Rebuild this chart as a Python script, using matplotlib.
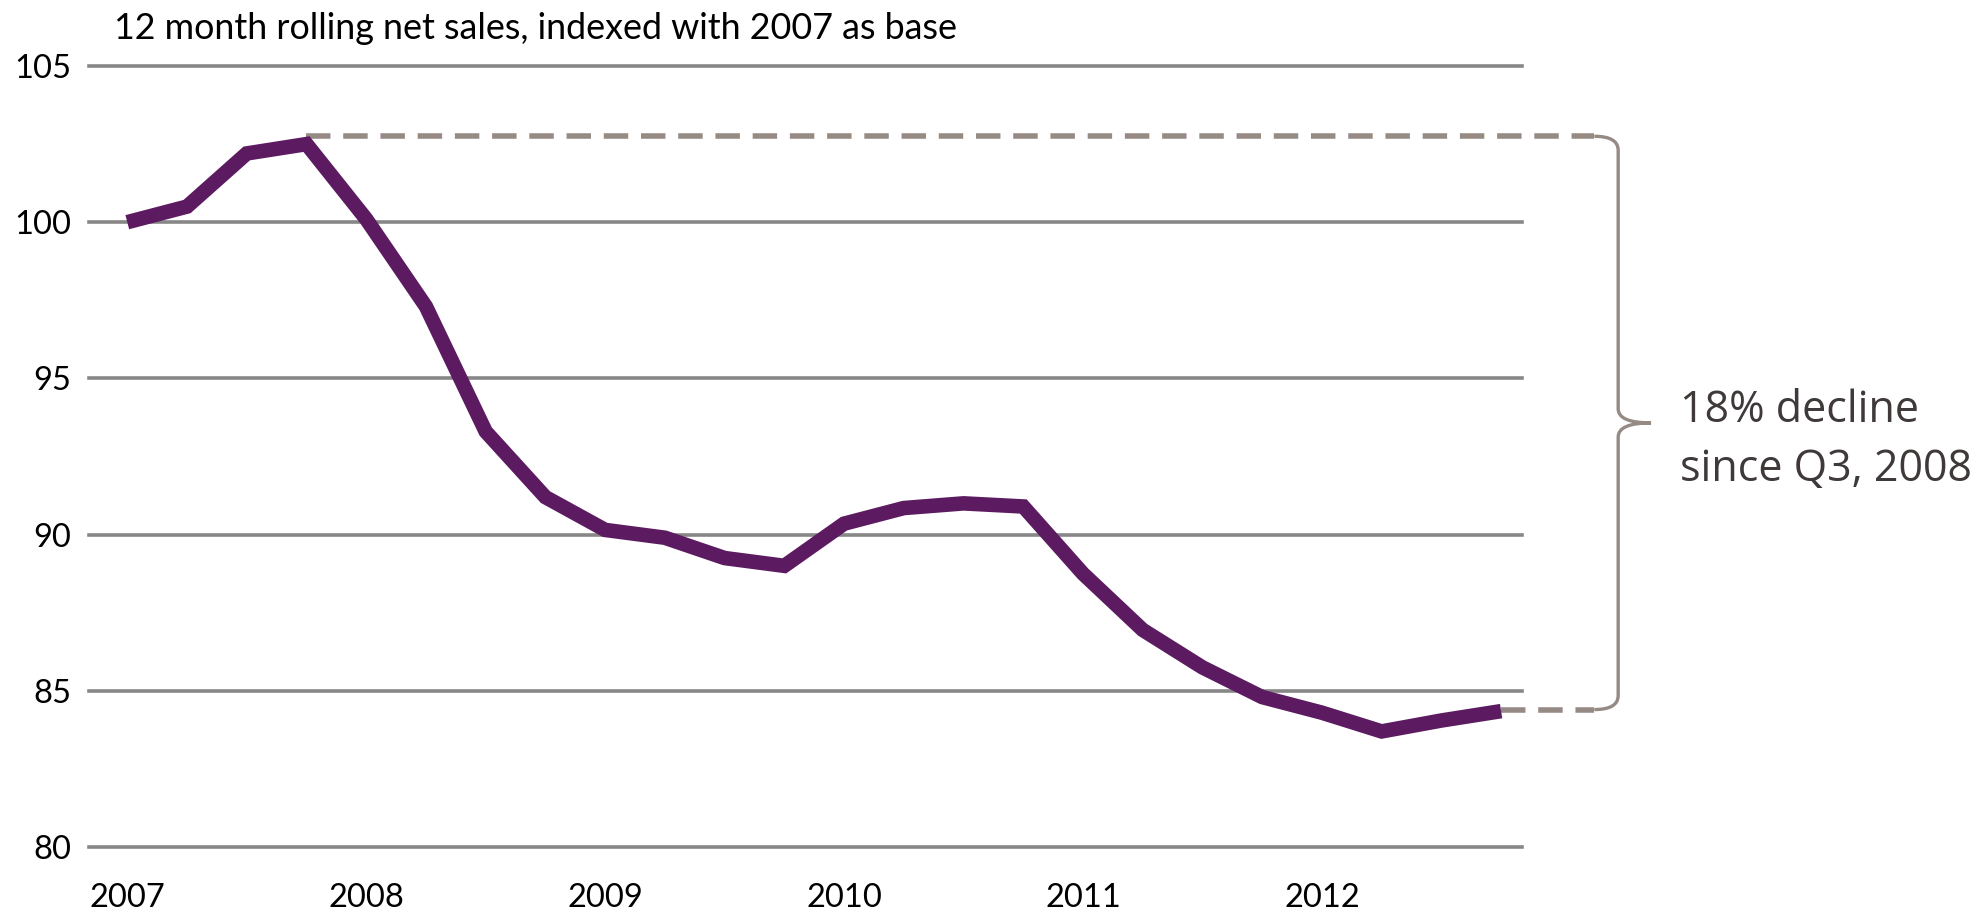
"""12 month rolling net sales, indexed with 2007 as base, with the decline since Q3 2008 marked."""

from __future__ import annotations

import matplotlib

matplotlib.use("Agg")

import matplotlib.pyplot as plt
from matplotlib.path import Path
from matplotlib.patches import PathPatch

OUTPUT_FILE = "out.png"

# quarterly index values, 2007 Q1 .. 2012 Q4
quarters = list(range(24))
net_sales_index = [
    100.0, 100.5, 102.2, 102.5,
    100.1, 97.3, 93.3, 91.2,
    90.15, 89.9, 89.25, 89.0,
    90.35, 90.85, 91.0, 90.9,
    88.75, 86.95, 85.75, 84.8,
    84.3, 83.7, 84.05, 84.35,
]
year_ticks = [0, 4, 8, 12, 16, 20]
year_labels = ["2007", "2008", "2009", "2010", "2011", "2012"]
y_ticks = [80, 85, 90, 95, 100, 105]

# levels for the bracket annotation
peak_level = 102.75
end_level = 84.4
peak_quarter = 3
last_quarter = 23

TITLE = "12 month rolling net sales, indexed with 2007 as base"
NOTE = "18% decline\nsince Q3, 2008"

PURPLE = "#5c1a60"
GRID = "#878787"
BRACE = "#968a84"
NOTE_COLOR = "#3f3939"


def draw_brace(ax, x, top, bottom, x_start, tip=0.55, curl_y=0.45):
    mid = (top + bottom) / 2
    verts = [
        (x_start, top), (x, top), (x, top - curl_y),
        (x, mid + curl_y), (x, mid), (x + tip, mid),
        (x, mid), (x, mid - curl_y),
        (x, bottom + curl_y), (x, bottom), (x_start, bottom),
    ]
    codes = [
        Path.MOVETO, Path.CURVE3, Path.CURVE3,
        Path.LINETO, Path.CURVE3, Path.CURVE3,
        Path.CURVE3, Path.CURVE3,
        Path.LINETO, Path.CURVE3, Path.CURVE3,
    ]
    patch = PathPatch(
        Path(verts, codes), facecolor="none", edgecolor=BRACE,
        linewidth=2.4, clip_on=False, capstyle="butt",
    )
    ax.add_patch(patch)


def main() -> None:
    plt.rcParams["font.family"] = ["Lato", "DejaVu Sans"]

    fig = plt.figure(figsize=(19.88, 9.10), dpi=100)
    ax = fig.add_axes([0.0448, 0.0692, 0.7208, 0.8583])

    for y in y_ticks:
        ax.axhline(y, color=GRID, linewidth=2.6, zorder=1, clip_on=False)

    # dashed guides from the peak and from the latest value to the bracket
    brace_x = 24.96
    ax.plot(
        [peak_quarter, brace_x - 0.4], [peak_level, peak_level],
        color=BRACE, linewidth=4, linestyle=(0, (4.4, 2.3)),
        clip_on=False, zorder=2,
    )
    ax.plot(
        [last_quarter, brace_x - 0.4], [end_level, end_level],
        color=BRACE, linewidth=4, linestyle=(0, (4.4, 2.3)),
        clip_on=False, zorder=2,
    )
    draw_brace(ax, brace_x, peak_level, end_level, brace_x - 0.4)

    ax.plot(
        quarters, net_sales_index, color=PURPLE, linewidth=10.5,
        solid_capstyle="butt", solid_joinstyle="miter", zorder=3,
    )

    ax.set_xlim(-0.64, 23.35)
    ax.set_ylim(80, 105)
    ax.set_xticks(year_ticks)
    ax.set_xticklabels(year_labels)
    ax.set_yticks(y_ticks)
    ax.tick_params(axis="both", length=0, labelsize=23.5, colors="black")
    ax.tick_params(axis="x", pad=26)
    ax.tick_params(axis="y", pad=13)
    for side in ax.spines.values():
        side.set_visible(False)

    fig.text(0.0573, 0.969, TITLE, fontsize=25.8, va="center", ha="left", color="black")
    fig.text(
        0.845, 0.516, NOTE, fontsize=31, va="center", ha="left",
        color=NOTE_COLOR, linespacing=1.45, family=["Open Sans", "DejaVu Sans"],
    )

    fig.savefig(OUTPUT_FILE, dpi=100)


if __name__ == "__main__":
    main()
